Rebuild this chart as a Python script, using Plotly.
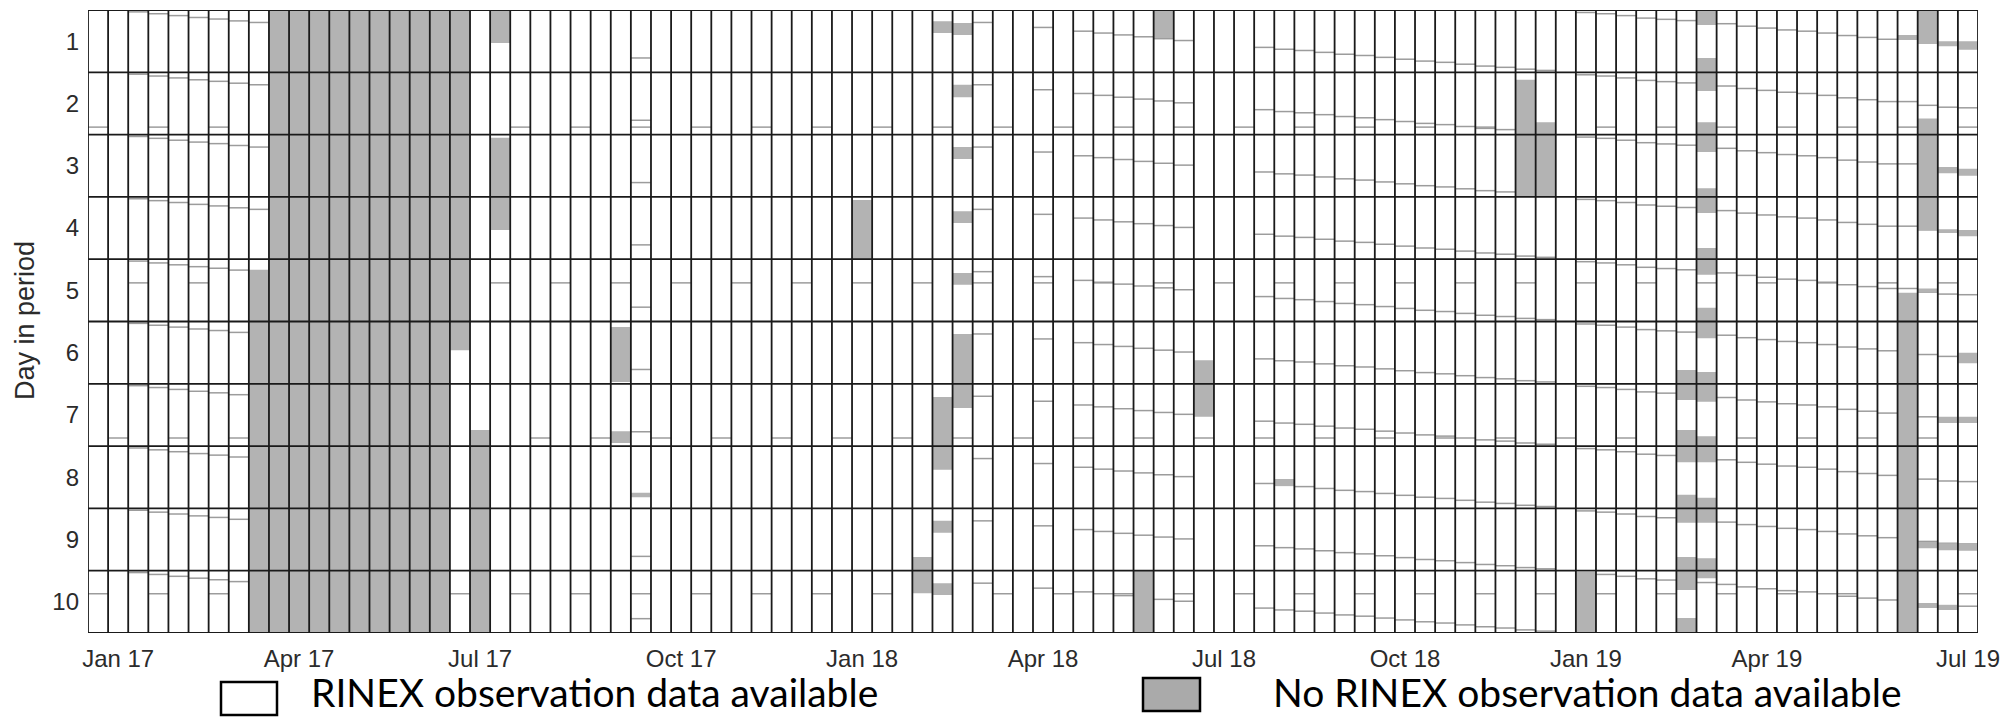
import plotly.graph_objects as go

# ---- data -------------------------------------------------------------
N_PERIODS = 94          # 10-day periods shown along the x axis
DAYS = list(range(1, 11))

tick_periods = [1, 10, 19, 29, 38, 47, 56, 65, 74, 83, 93]
tick_labels = ["Jan 17", "Apr 17", "Jul 17", "Oct 17", "Jan 18", "Apr 18",
               "Jul 18", "Oct 18", "Jan 19", "Apr 19", "Jul 19"]

# gaps without RINEX observation data: period index, start / end in day units
gap_period = [8, 9, 10, 11, 12, 13, 14, 15, 16, 17, 18, 19, 20, 20,
              26, 26, 27, 38, 41, 42, 42, 42, 42,
              43, 43, 43, 43, 43, 43, 52, 53, 55, 59,
              71, 72, 74, 79, 79, 79, 79, 79,
              80, 80, 80, 80, 80, 80, 80, 80, 80, 80,
              90, 90, 91, 91, 91, 91, 91,
              92, 92, 92, 92, 92, 92, 93, 93, 93, 93, 93, 93]
gap_start = [4.67, 0.5, 0.5, 0.5, 0.5, 0.5, 0.5, 0.5, 0.5, 0.5, 0.5, 7.24, 0.5, 2.55,
             5.59, 7.26, 8.25, 3.55, 9.28, 0.68, 6.71, 8.70, 9.70,
             0.71, 1.70, 2.70, 3.73, 4.72, 5.70, 9.50, 0.50, 6.12, 8.03,
             1.62, 2.30, 9.52, 6.28, 7.24, 8.28, 9.28, 10.26,
             0.50, 1.27, 2.30, 3.36, 4.32, 5.28, 6.31, 7.34, 8.33, 9.30,
             0.90, 5.04, 0.50, 2.24, 4.97, 9.04, 10.02,
             1.00, 3.02, 4.02, 7.03, 9.06, 10.05, 1.00, 3.05, 4.03, 6.00, 7.03, 9.06]
gap_end = [10.5, 10.5, 10.5, 10.5, 10.5, 10.5, 10.5, 10.5, 10.5, 10.5, 5.96, 10.5, 1.03, 4.03,
           6.47, 7.45, 8.32, 4.51, 9.86, 0.87, 7.88, 8.89, 9.89,
           0.90, 1.90, 2.89, 3.92, 4.91, 6.89, 10.5, 0.95, 7.03, 8.14,
           3.50, 3.50, 10.5, 6.76, 7.76, 8.73, 9.81, 10.5,
           0.74, 1.80, 2.78, 3.76, 4.75, 5.77, 6.79, 7.76, 8.73, 9.62,
           0.98, 10.5, 1.03, 4.03, 5.04, 9.14, 10.10,
           1.08, 3.12, 4.08, 7.13, 9.17, 10.13, 1.14, 3.16, 4.13, 6.17, 7.13, 9.18]

# daily file boundaries that drift through the period (fraction of a day)
drift_period = [2, 3, 4, 5, 6, 7, 8, 27, 44, 47, 49, 50, 51, 52, 53, 54,
                58, 59, 60, 61, 62, 63, 64, 65, 66, 67, 68, 69, 70, 71, 72,
                74, 75, 76, 77, 78, 79, 80, 81, 82, 83, 84, 85, 86, 87, 88,
                89, 90, 91, 92, 93]
drift_offset = [0.03, 0.06, 0.09, 0.12, 0.145, 0.175, 0.20, 0.77, 0.20, 0.28, 0.34,
                0.37, 0.40, 0.43, 0.46, 0.49,
                0.60, 0.63, 0.65, 0.68, 0.71, 0.73, 0.76, 0.79, 0.82, 0.84, 0.87,
                0.90, 0.92, 0.95, 0.97,
                0.04, 0.06, 0.09, 0.13, 0.15, 0.17, 0.19, 0.22, 0.26, 0.29, 0.32,
                0.34, 0.37, 0.41, 0.44, 0.47, 0.47, 0.53, 0.56, 0.57]

# short split-file marks that repeat every third period
split_day = [2.38, 4.88, 7.37, 9.87]
split_periods = [
    [0, 3, 6, 18, 21, 24, 27, 30, 33, 36, 39, 42, 45, 48, 51, 54, 57, 60, 63, 66,
     69, 72, 75, 78, 81, 84, 87, 90, 93],
    [2, 5, 20, 23, 26, 29, 32, 35, 38, 41, 44, 47, 50, 53, 56, 59, 62, 65, 68, 71,
     74, 77, 80, 83, 86, 89, 92],
    [1, 4, 7, 19, 22, 25, 28, 31, 34, 37, 40, 43, 46, 49, 52, 55, 58, 61, 64, 67,
     70, 73, 76, 79, 82, 85, 88, 91],
    [0, 3, 6, 18, 21, 24, 27, 30, 33, 36, 39, 42, 45, 48, 51, 54, 57, 60, 63, 66,
     69, 72, 75, 78, 81, 84, 87, 90, 93],
]

GAP_GREY = "#b3b3b3"
THIN_GREY = "#9c9c9c"
INK = "#1a1a1a"
AXIS_TXT = "#2b2b2b"

# ---- traces -----------------------------------------------------------
fig = go.Figure()

# thin file-boundary segments
tx, ty = [], []
for p, off in zip(drift_period, drift_offset):
    for d in DAYS:
        y = d - 0.5 + off
        tx += [p, p + 1, None]
        ty += [y, y, None]
for yv, plist in zip(split_day, split_periods):
    for p in plist:
        tx += [p, p + 1, None]
        ty += [yv, yv, None]
fig.add_trace(go.Scatter(x=tx, y=ty, mode="lines",
                         line=dict(color=THIN_GREY, width=1.5),
                         hoverinfo="skip", showlegend=False))

# grey cells: no observation data
gx, gy = [], []
for p, s, e in zip(gap_period, gap_start, gap_end):
    gx += [p, p + 1, p + 1, p, p, None]
    gy += [s, s, e, e, s, None]
fig.add_trace(go.Scatter(x=gx, y=gy, mode="lines", fill="toself",
                         fillcolor=GAP_GREY, line=dict(width=0, color=GAP_GREY),
                         hoverinfo="skip", showlegend=False))

# period columns and day rows
vx, vy = [], []
for p in range(N_PERIODS + 1):
    vx += [p, p, None]
    vy += [0.5, 10.5, None]
fig.add_trace(go.Scatter(x=vx, y=vy, mode="lines",
                         line=dict(color=INK, width=1.8),
                         hoverinfo="skip", showlegend=False))
hx, hy = [], []
for d in range(0, 11):
    hx += [0, N_PERIODS, None]
    hy += [d + 0.5, d + 0.5, None]
fig.add_trace(go.Scatter(x=hx, y=hy, mode="lines",
                         line=dict(color=INK, width=1.8),
                         hoverinfo="skip", showlegend=False))

# ---- layout -----------------------------------------------------------
W, H = 2013, 717
ML, MR, MT, MB = 88, 35, 10, 84
PW, PH = W - ML - MR, H - MT - MB


def px_x(px):
    return (px - ML) / PW


def px_y(py):
    return (H - MB - py) / PH


fig.update_layout(
    width=W, height=H, autosize=False,
    margin=dict(l=ML, r=MR, t=MT, b=MB, pad=0),
    paper_bgcolor="white", plot_bgcolor="white",
    showlegend=False,
    xaxis=dict(range=[0, N_PERIODS], showgrid=False, zeroline=False,
               tickmode="array",
               tickvals=[p + 0.5 for p in tick_periods], ticktext=tick_labels,
               ticks="", ticklabelstandoff=9,
               tickfont=dict(family="Liberation Sans, Arial", size=24, color=AXIS_TXT),
               showline=False),
    yaxis=dict(range=[10.5, 0.5], showgrid=False, zeroline=False,
               tickmode="array", tickvals=DAYS, ticktext=[str(d) for d in DAYS],
               ticks="", ticklabelstandoff=8,
               tickfont=dict(family="Liberation Sans, Arial", size=24, color=AXIS_TXT),
               showline=False),
)

fig.add_annotation(text="Day in period", textangle=-90,
                   xref="paper", yref="paper", x=px_x(25), y=px_y(321),
                   xanchor="center", yanchor="middle", showarrow=False,
                   font=dict(family="Liberation Sans, Arial", size=27, color=AXIS_TXT))

# legend drawn beneath the axis
legend_items = [
    ("RINEX observation data available", "white", 221, 277, 682, 715, 310),
    ("No RINEX observation data available", "#aaaaaa", 1143, 1200, 678, 711, 1272),
]
for label, fillc, x0, x1, y0, y1, tx0 in legend_items:
    fig.add_shape(type="rect", xref="paper", yref="paper",
                  x0=px_x(x0), x1=px_x(x1), y0=px_y(y1), y1=px_y(y0),
                  line=dict(color="black", width=2.5), fillcolor=fillc)
    fig.add_annotation(text=label, xref="paper", yref="paper",
                       x=px_x(tx0), y=px_y(716), xanchor="left", yanchor="bottom",
                       showarrow=False, borderpad=0,
                       font=dict(family="Lato", size=39, color="black"))

fig.write_html("out.html")
